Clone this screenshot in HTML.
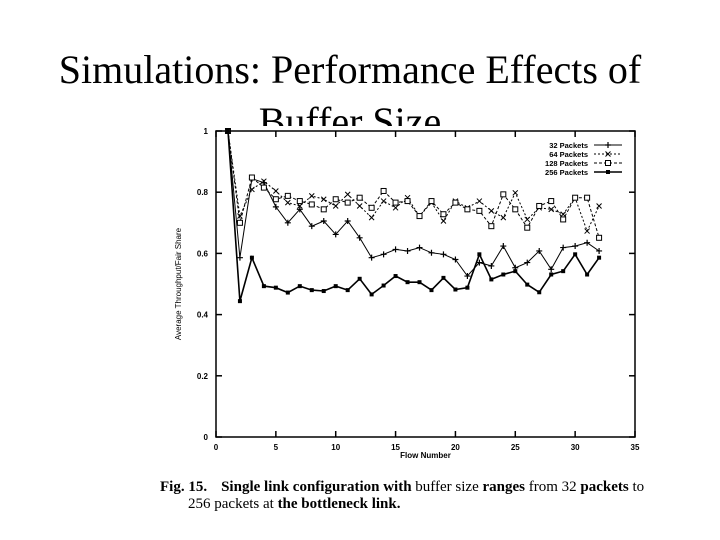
<!DOCTYPE html>
<html><head><meta charset="utf-8">
<style>
html,body{margin:0;padding:0;background:#fff;}
body{width:720px;height:540px;position:relative;overflow:hidden;}
.title{position:absolute;left:-10px;width:720px;text-align:center;font-family:"Liberation Serif",serif;font-size:40px;color:#000;white-space:nowrap;}
svg{position:absolute;left:0;top:0;}
.cap{position:absolute;font-family:"Liberation Serif",serif;font-size:15px;color:#000;white-space:nowrap;}
</style></head>
<body>
<div class="title" style="top:46px;">Simulations: Performance Effects of</div>
<div class="title" style="top:98px;">Buffer Size</div>
<svg width="720" height="540">
  <rect x="170" y="126" width="480" height="340" fill="#fff"/>
  <g id="plot"></g>
</svg>
<div class="cap" style="left:160px;top:479px;"><b>Fig. 15.</b><span style="display:inline-block;width:14px"></span><b>Single link configuration with</b> buffer size <b>ranges</b> from 32 <b>packets</b> to</div>
<div class="cap" style="left:188px;top:496px;">256 packets at <b>the bottleneck link.</b></div>
<script>
const flows=[1,2,3,4,5,6,7,8,9,10,11,12,13,14,15,16,17,18,19,20,21,22,23,24,25,26,27,28,29,30,31,32];
const s32=[1.0,0.586,0.844,0.831,0.752,0.700,0.744,0.689,0.706,0.662,0.706,0.651,0.586,0.597,0.613,0.608,0.619,0.602,0.597,0.580,0.526,0.570,0.559,0.624,0.553,0.570,0.608,0.548,0.619,0.624,0.635,0.608];
const s64=[1.0,0.722,0.809,0.836,0.804,0.766,0.755,0.788,0.777,0.755,0.793,0.755,0.717,0.771,0.749,0.782,0.722,0.766,0.706,0.771,0.749,0.771,0.739,0.717,0.798,0.711,0.749,0.744,0.728,0.782,0.673,0.755];
const s128=[1.0,0.700,0.848,0.815,0.777,0.788,0.771,0.760,0.744,0.777,0.766,0.782,0.749,0.804,0.766,0.771,0.722,0.771,0.728,0.766,0.744,0.739,0.689,0.793,0.744,0.684,0.755,0.771,0.711,0.782,0.782,0.651];
const s256=[1.0,0.444,0.586,0.493,0.488,0.472,0.493,0.480,0.477,0.493,0.480,0.517,0.466,0.495,0.526,0.506,0.506,0.480,0.520,0.482,0.488,0.597,0.515,0.531,0.542,0.498,0.473,0.531,0.542,0.597,0.531,0.586];
const xTicks=[0,5,10,15,20,25,30,35];
const xTickLabels=["0","5","10","15","20","25","30","35"];
const yTicks=[0,0.2,0.4,0.6,0.8,1];
const yTickLabels=["0","0.2","0.4","0.6","0.8","1"];
const legendLabels=["32 Packets","64 Packets","128 Packets","256 Packets"];

const X0=216,X1=635,Y0=437,Y1=131;
const xs=v=>X0+(v/35)*(X1-X0);
const ys=v=>Y0-v*(Y0-Y1);
const NS="http://www.w3.org/2000/svg";
const g=document.getElementById('plot');
function mk(tag,attrs){const e=document.createElementNS(NS,tag);for(const k in attrs)e.setAttribute(k,attrs[k]);g.appendChild(e);return e;}

let fr=mk('rect',{x:X0,y:Y1,width:X1-X0,height:Y0-Y1,fill:'none',stroke:'#000','stroke-width':1.5});



xTicks.forEach((t,i)=>{
  const x=xs(t);
  let l=mk('line',{x1:x,y1:Y0,x2:x,y2:Y0-6,stroke:'#000','stroke-width':1.5});
  
  
  let l2=mk('line',{x1:x,y1:Y1,x2:x,y2:Y1+6,stroke:'#000','stroke-width':1.5});
  
  
  let tx=mk('text',{x:x,y:Y0+13,'text-anchor':'middle','font-family':'Liberation Sans, sans-serif','font-size':8,'font-weight':'bold'});
  tx.textContent=xTickLabels[i];
  
  
});
yTicks.forEach((t,i)=>{
  const y=ys(t);
  let l=mk('line',{x1:X0,y1:y,x2:X0+6,y2:y,stroke:'#000','stroke-width':1.5});
  
  
  let l2=mk('line',{x1:X1,y1:y,x2:X1-6,y2:y,stroke:'#000','stroke-width':1.5});
  
  
  let tx=mk('text',{x:X0-8,y:y+3,'text-anchor':'end','font-family':'Liberation Sans, sans-serif','font-size':8,'font-weight':'bold'});
  tx.textContent=yTickLabels[i];
  
  
});
let xt=mk('text',{x:(X0+X1)/2,y:Y0+21,'text-anchor':'middle','font-family':'Liberation Sans, sans-serif','font-size':8,'font-weight':'bold'});
xt.textContent='Flow Number';


let yt=mk('text',{x:0,y:0,'text-anchor':'middle','font-family':'Liberation Sans, sans-serif','font-size':8,'transform':'translate(181,284) rotate(-90)'});
yt.textContent='Average Throughput/Fair Share';



const series=[s32,s64,s128,s256];
const dashes=['none','2,2','3,2','none'];
const names=['series-32-packets','series-64-packets','series-128-packets','series-256-packets'];
function marker(i,x,y){
  let m;
  if(i===0){m=mk('path',{d:`M${x-3},${y}H${x+3}M${x},${y-3}V${y+3}`,stroke:'#000','stroke-width':1.2});}
  else if(i===1){m=mk('path',{d:`M${x-2.5},${y-2.5}L${x+2.5},${y+2.5}M${x-2.5},${y+2.5}L${x+2.5},${y-2.5}`,stroke:'#000','stroke-width':1});}
  else if(i===2){m=mk('rect',{x:x-2.5,y:y-2.5,width:5,height:5,fill:'#fff',stroke:'#000','stroke-width':1});}
  else {m=mk('rect',{x:x-2,y:y-2,width:4,height:4,fill:'#000'});}
  return m;
}
series.forEach((s,i)=>{
  const d=s.map((v,k)=>(k?'L':'M')+xs(flows[k]).toFixed(1)+','+ys(v).toFixed(1)).join('');
  let p=mk('path',{d:d,fill:'none',stroke:'#000','stroke-width':i===3?1.6:1,'stroke-dasharray':dashes[i]});
  
  
  s.forEach((v,k)=>{
    let m=marker(i,xs(flows[k]),ys(v));
    
    
  });
});
legendLabels.forEach((lab,i)=>{
  const y=145+i*9;
  let tx=mk('text',{x:588,y:y+3,'text-anchor':'end','font-family':'Liberation Sans, sans-serif','font-size':7.5,'font-weight':'bold'});
  tx.textContent=lab;
  
  
  let ln=mk('line',{x1:594,y1:y,x2:622,y2:y,stroke:'#000','stroke-width':i===3?1.4:1,'stroke-dasharray':dashes[i]});
  
  
  let m=marker(i,608,y);
  
  
});
</script>
</body></html>
